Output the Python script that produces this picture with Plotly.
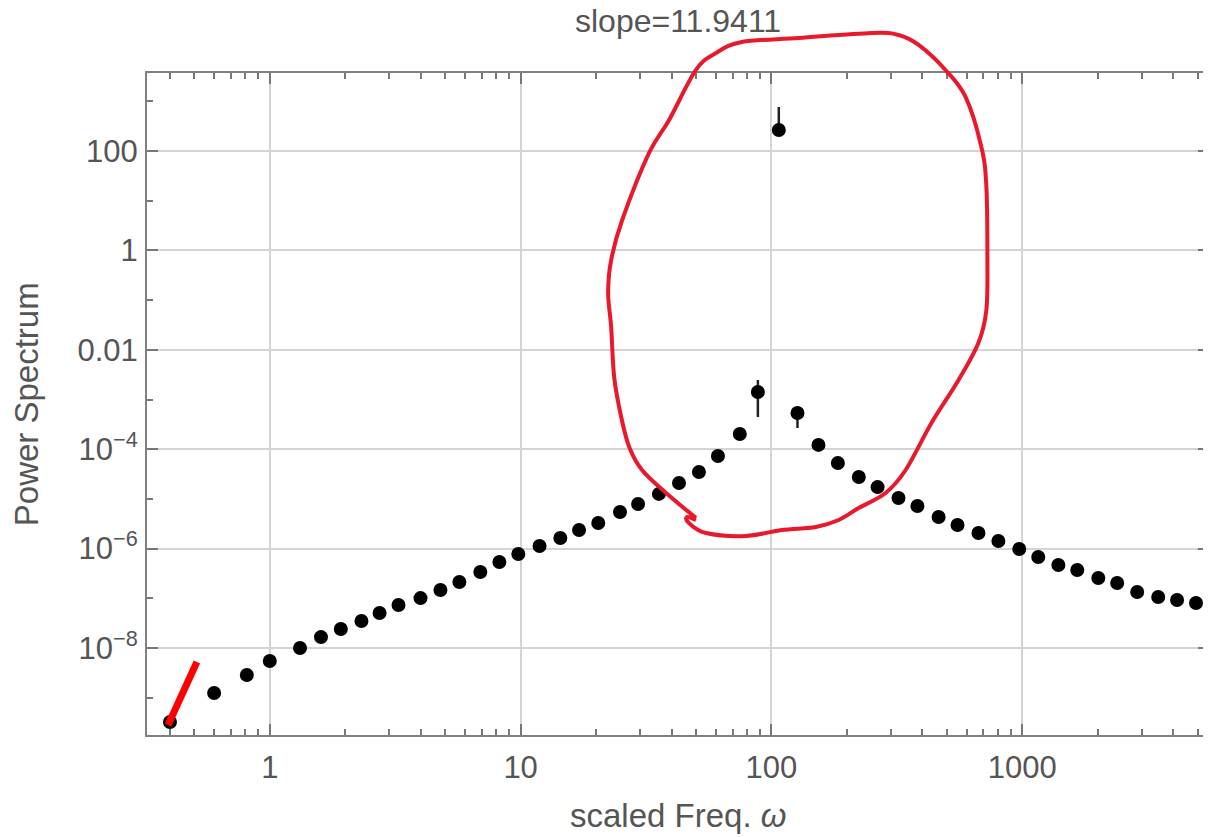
import plotly.graph_objects as go

# ---------------- data ----------------
freq = [0.40, 0.60, 0.81, 1.0, 1.32, 1.60, 1.92, 2.32, 2.74, 3.26, 3.99, 4.79, 5.70,
        6.91, 8.23, 9.79, 11.9, 14.4, 17.1, 20.4, 24.9, 29.4, 35.6, 42.8, 51.4, 61.2,
        74.8, 88.3, 107, 127, 154, 184, 223, 265, 321, 382, 464, 552, 669, 803, 973,
        1158, 1393, 1657, 2010, 2390, 2872, 3483, 4142, 4928]
power = [3.24e-10, 1.245e-9, 2.86e-9, 5.47e-9, 1.0e-8, 1.66e-8, 2.41e-8, 3.49e-8,
         5.06e-8, 7.33e-8, 1.01e-7, 1.47e-7, 2.13e-7, 3.38e-7, 5.37e-7, 7.78e-7,
         1.13e-6, 1.63e-6, 2.37e-6, 3.27e-6, 5.45e-6, 7.89e-6, 1.26e-5, 2.09e-5,
         3.48e-5, 7.29e-5, 2.02e-4, 1.42e-3, 265, 5.35e-4, 1.22e-4, 5.27e-5, 2.76e-5,
         1.73e-5, 1.04e-5, 7.19e-6, 4.33e-6, 2.99e-6, 2.06e-6, 1.42e-6, 9.82e-7,
         6.78e-7, 4.68e-7, 3.71e-7, 2.56e-7, 2.03e-7, 1.34e-7, 1.06e-7, 9.25e-8, 8.04e-8]
err_plus = [0] * 27 + [1.05e-3, 502, 0] + [0] * 20
err_minus = [0] * 27 + [9.75e-4, 0, 2.68e-4] + [0] * 20

slope_label = "slope=11.9411"
slope_x = [0.393, 0.512]
slope_y = [2.82e-10, 5.22e-9]

x_tickvals = [1, 10, 100, 1000]
x_ticktext = ["1", "10", "100", "1000"]
x_minor = [0.4, 0.5, 0.6, 0.7, 0.8, 0.9,
           2, 3, 4, 5, 6, 7, 8, 9,
           20, 30, 40, 50, 60, 70, 80, 90,
           200, 300, 400, 500, 600, 700, 800, 900,
           2000, 3000, 4000, 5000]
y_tickvals = [1e-8, 1e-6, 1e-4, 1e-2, 1, 100]
y_ticktext = ["10<sup>\u22128</sup>", "10<sup>\u22126</sup>", "10<sup>\u22124</sup>",
              "0.01", "1", "100"]
y_minor = [1e-9, 1e-7, 1e-5, 1e-3, 0.1, 10, 1000]

# hand-drawn red outline (log10 freq, log10 power)
circle_lx = [1.699, 1.580, 1.484, 1.433, 1.401, 1.373, 1.361, 1.349, 1.361, 1.405,
             1.512, 1.592, 1.699, 1.779, 1.882, 2.109, 2.400, 2.507, 2.587, 2.694,
             2.774, 2.837, 2.857, 2.861, 2.857, 2.825, 2.746, 2.638, 2.535, 2.455,
             2.348, 2.268, 2.177, 2.041, 1.898, 1.739, 1.671, 1.663, 1.699]
circle_ly = [-5.384, -4.881, -4.419, -3.956, -3.352, -2.547, -1.541, -0.857, -0.193, 0.612,
             1.960, 2.624, 3.630, 3.972, 4.193, 4.274, 4.374, 4.334, 4.133, 3.630,
             3.087, 2.080, 1.276, -0.193, -1.199, -1.863, -2.608, -3.473, -4.419, -4.881,
             -5.183, -5.425, -5.565, -5.626, -5.746, -5.686, -5.485, -5.364, -5.425]

# ---------------- layout constants ----------------
W, H = 1211, 837
OFF = 8  # page offset of the figure inside the browser
ML, MR, MT, MB = 147 - OFF, OFF, 73 - OFF, H - (735 - OFF)
XR = [-0.4895, 3.7445]
YR = [-9.75, 3.569]
TXT = "#555555"
FONT = "Liberation Sans, Arial, sans-serif"
FS_TICK = 31
FS_LAB = 33

fig = go.Figure()
fig.add_trace(go.Scatter(
    x=freq, y=power, mode="markers",
    marker=dict(color="black", size=14),
    error_y=dict(type="data", symmetric=False, array=err_plus, arrayminus=err_minus,
                 color="#222222", thickness=2.5, width=0),
    showlegend=False))
fig.add_trace(go.Scatter(
    x=slope_x, y=slope_y, mode="lines",
    line=dict(color="#ff0000", width=7), showlegend=False))


def to_paper(lx, ly):
    return ((lx - XR[0]) / (XR[1] - XR[0]), (ly - YR[0]) / (YR[1] - YR[0]))


pts = [to_paper(a, b) for a, b in zip(circle_lx, circle_ly)]
path = "M %.5f,%.5f" % pts[0]
n = len(pts)
for i in range(n - 1):
    p0 = pts[i - 1] if i > 0 else pts[i]
    p1, p2 = pts[i], pts[i + 1]
    p3 = pts[i + 2] if i + 2 < n else pts[i + 1]
    c1 = (p1[0] + (p2[0] - p0[0]) / 6, p1[1] + (p2[1] - p0[1]) / 6)
    c2 = (p2[0] - (p3[0] - p1[0]) / 6, p2[1] - (p3[1] - p1[1]) / 6)
    path += " C %.5f,%.5f %.5f,%.5f %.5f,%.5f" % (c1 + c2 + p2)
fig.add_shape(type="path", path=path, xref="paper", yref="paper",
              line=dict(color="#e8192c", width=4), layer="above")

axis_common = dict(
    ticks="inside", tickcolor="#777777", tickwidth=1.5, ticklen=11,
    showline=True, linecolor="#808080", linewidth=2, mirror="allticks",
    showgrid=True, gridcolor="#d4d4d4", gridwidth=2, zeroline=False,
    tickfont=dict(family=FONT, size=FS_TICK, color=TXT),
)
fig.update_xaxes(type="log", range=XR, tickmode="array", tickvals=x_tickvals,
                 ticktext=x_ticktext, ticklabelstandoff=4,
                 minor=dict(tickmode="array", tickvals=x_minor, ticks="inside",
                            ticklen=6, tickcolor="#777777", tickwidth=1.5, showgrid=False),
                 **axis_common)
fig.update_yaxes(type="log", range=YR, tickmode="array", tickvals=y_tickvals,
                 ticktext=y_ticktext, ticklabelstandoff=1,
                 minor=dict(tickmode="array", tickvals=y_minor, ticks="inside",
                            ticklen=6, tickcolor="#777777", tickwidth=1.5, showgrid=False),
                 **axis_common)

plot_h = H - MT - MB
plot_w = W - ML - MR
bottom_px = H - MB
fig.add_annotation(text=slope_label, xref="paper", yref="paper", x=0.5,
                   y=(bottom_px - (21 - OFF)) / plot_h, borderpad=0,
                   showarrow=False, xanchor="center", yanchor="middle",
                   font=dict(family=FONT, size=32, color=TXT))
fig.add_annotation(text="scaled Freq. <i>\u03c9</i>", xref="paper", yref="paper", x=0.5,
                   y=(bottom_px - (815 - OFF)) / plot_h, showarrow=False, borderpad=0,
                   xanchor="center", yanchor="middle",
                   font=dict(family=FONT, size=FS_LAB, color=TXT))
fig.add_annotation(text="Power Spectrum", xref="paper", yref="paper",
                   x=((26 - OFF) - ML) / plot_w, y=0.5, textangle=-90, showarrow=False,
                   xanchor="center", yanchor="middle", borderpad=0,
                   font=dict(family=FONT, size=FS_LAB, color=TXT))

fig.update_layout(width=W, height=H, margin=dict(l=ML, r=MR, t=MT, b=MB),
                  paper_bgcolor="white", plot_bgcolor="white", showlegend=False)

fig.write_html("out.html")
